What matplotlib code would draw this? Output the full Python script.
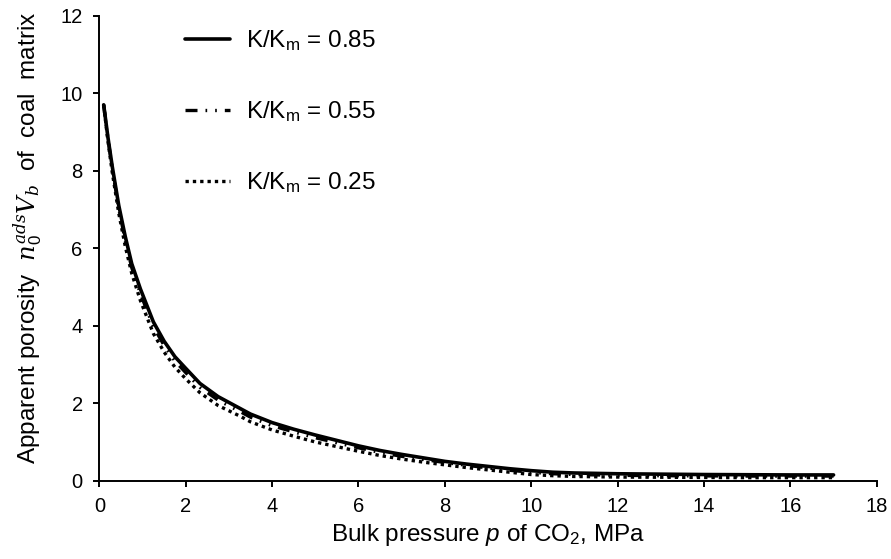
import matplotlib
matplotlib.use('Agg')
import matplotlib.pyplot as plt
import numpy as np

plt.rcParams['font.family'] = ['Liberation Sans', 'DejaVu Sans']
plt.rcParams['mathtext.fontset'] = 'custom'
plt.rcParams['mathtext.rm'] = 'Liberation Sans'
plt.rcParams['mathtext.sf'] = 'Liberation Sans:italic'
plt.rcParams['mathtext.it'] = 'DejaVu Serif:italic'

# bulk pressure of CO2, MPa
pressure = [0.1, 0.2, 0.3, 0.45, 0.6, 0.75, 0.95, 1.25, 1.5, 1.75, 2.0, 2.33,
            2.75, 3.25, 3.5, 4.0, 4.5, 5.0, 5.5, 6.0, 6.5, 7.0, 7.5, 8.0, 8.5,
            9.0, 9.5, 10.0, 10.5, 11.0, 12.0, 13.0, 14.0, 15.0, 16.0, 17.0]

# apparent porosity for each K/Km ratio
por_085 = [9.7, 8.85, 8.1, 7.1, 6.3, 5.6, 4.95, 4.1, 3.6, 3.2, 2.9, 2.51,
           2.17, 1.87, 1.72, 1.5, 1.33, 1.18, 1.04, 0.9, 0.78, 0.68, 0.59, 0.5,
           0.43, 0.37, 0.31, 0.26, 0.22, 0.2, 0.18, 0.17, 0.16, 0.155, 0.15, 0.15]
por_055 = [9.7, 8.82, 8.05, 7.02, 6.2, 5.5, 4.83, 3.98, 3.49, 3.09, 2.79, 2.41,
           2.08, 1.79, 1.64, 1.42, 1.26, 1.11, 0.98, 0.85, 0.73, 0.63, 0.55, 0.47,
           0.4, 0.33, 0.27, 0.22, 0.18, 0.16, 0.14, 0.13, 0.125, 0.12, 0.12, 0.12]
por_025 = [9.7, 8.75, 7.95, 6.9, 6.05, 5.35, 4.65, 3.8, 3.32, 2.93, 2.63, 2.27,
           1.94, 1.67, 1.52, 1.31, 1.15, 1.0, 0.88, 0.76, 0.65, 0.56, 0.48, 0.41,
           0.34, 0.28, 0.22, 0.16, 0.13, 0.11, 0.095, 0.09, 0.085, 0.08, 0.08, 0.08]

labels = ['K/K$_\\mathrm{m}$ = 0.85', 'K/K$_\\mathrm{m}$ = 0.55', 'K/K$_\\mathrm{m}$ = 0.25']

fig = plt.figure(figsize=(8.91, 5.59), dpi=100)
ax = fig.add_axes([0.1115, 0.140, 0.8725, 0.832])

ax.plot(pressure, por_085, color='black', lw=2.6, solid_joinstyle='round',
        solid_capstyle='round', label=labels[0])
ax.plot(pressure, por_055, color='black', lw=2.4, dashes=(3.6, 2.4, 0.5, 2.4, 0.5, 2.4),
        label=labels[1])
ax.plot(pressure, por_025, color='black', lw=2.4, dashes=(1, 1.2), label=labels[2])

ax.set_xlim(0, 18)
ax.set_ylim(0, 12)
ax.set_xticks(np.arange(0, 19, 2))
ax.set_yticks(np.arange(0, 13, 2))
for side in ['top', 'right']:
    ax.spines[side].set_visible(False)
for side in ['left', 'bottom']:
    ax.spines[side].set_linewidth(1.4)
ax.tick_params(direction='out', length=4, width=1.4, labelsize=14.5)
ax.tick_params(axis='x', pad=8)
ax.tick_params(axis='y', pad=8)

ax.set_xlabel('Bulk pressure $\\mathsf{p}$ of CO$_2$, MPa', fontsize=17.5, labelpad=4)
ax.set_ylabel('Apparent porosity  $n_{\\mathit{0}}^{ads}V_b$  of  coal  matrix',
              fontsize=17.5)
ax.yaxis.set_label_coords(-0.071, 0.523)

ax.legend(loc='upper left', bbox_to_anchor=(0.095, 0.999), frameon=False, fontsize=17.5,
          handlelength=1.85, handletextpad=0.66, labelspacing=1.9, borderaxespad=0.1)

fig.savefig('out.png', dpi=100)
